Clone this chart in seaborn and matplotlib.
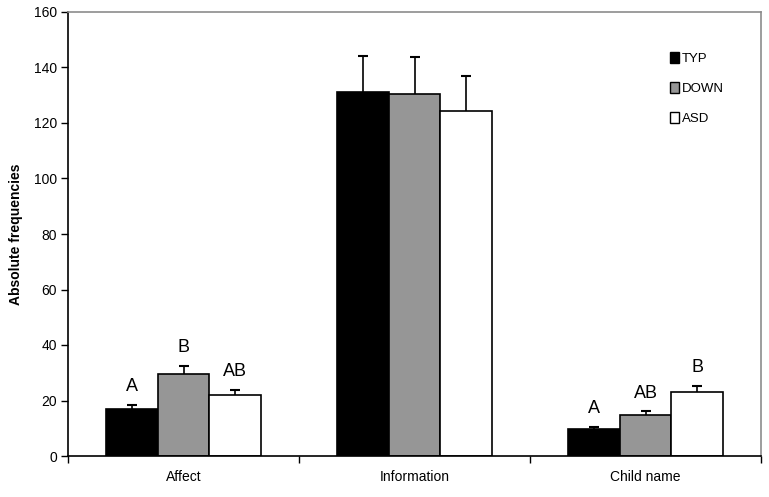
import numpy as np
import pandas as pd
import matplotlib
matplotlib.use("Agg")
import matplotlib.pyplot as plt
import seaborn as sns
from matplotlib.patches import Patch

categories = ["Affect", "Information", "Child name"]
groups = ["TYP", "DOWN", "ASD"]
typ_vals = [16.8, 131.0, 9.6]
down_vals = [29.4, 130.6, 14.6]
asd_vals = [21.9, 124.5, 23.0]
typ_err = [1.7, 13.0, 1.0]
down_err = [3.0, 13.2, 1.5]
asd_err = [2.0, 12.5, 2.4]
typ_letters = ["A", "", "A"]
down_letters = ["B", "", "AB"]
asd_letters = ["AB", "", "B"]
yticks = [0, 20, 40, 60, 80, 100, 120, 140, 160]
colors = {"TYP": "#000000", "DOWN": "#969696", "ASD": "#ffffff"}

rows = []
for g, vals, errs, lets in [("TYP", typ_vals, typ_err, typ_letters),
                            ("DOWN", down_vals, down_err, down_letters),
                            ("ASD", asd_vals, asd_err, asd_letters)]:
    for c, v, e, l in zip(categories, vals, errs, lets):
        rows.append({"category": c, "group": g, "value": v, "err": e, "letter": l})
df = pd.DataFrame(rows)

sns.set_style("white")
plt.rcParams["font.family"] = ["Liberation Sans", "DejaVu Sans"]
plt.rcParams["text.color"] = "black"
plt.rcParams["axes.labelcolor"] = "black"
plt.rcParams["xtick.color"] = "black"
plt.rcParams["ytick.color"] = "black"

fig = plt.figure(figsize=(7.69, 4.97), dpi=100)
ax = fig.add_axes([68 / 769, 41 / 497, 693 / 769, 444 / 497])

sns.barplot(data=df, x="category", y="value", hue="group", order=categories,
            hue_order=groups, palette=colors, width=0.67, errorbar=None,
            edgecolor="black", linewidth=1.2, ax=ax, legend=False, zorder=2)

for g, container in zip(groups, ax.containers):
    sub = df[df["group"] == g].set_index("category").loc[categories]
    xs = [p.get_x() + p.get_width() / 2 for p in container.patches]
    ys = sub["value"].values
    es = sub["err"].values
    ax.errorbar(xs, ys, yerr=es, fmt="none",
                ecolor="black", elinewidth=1.2, capsize=3.5, capthick=1.5, zorder=1)
    for x, y, e, l in zip(xs, ys, es, sub["letter"].values):
        if l:
            ax.text(x, y + e + 3.5, l, ha="center", va="bottom", fontsize=13, color="black")

ax.set_xlim(-0.5, 2.5)
ax.set_ylim(0, 160)
ax.set_yticks(yticks)
ax.set_yticklabels([str(t) for t in yticks], fontsize=10)
ax.set_xticks(range(len(categories)))
ax.set_xticklabels(categories, fontsize=10)
ax.set_xticks([-0.5, 0.5, 1.5, 2.5], minor=True)
ax.tick_params(axis="x", which="major", length=0, pad=10)
ax.tick_params(axis="x", which="minor", length=5, width=1, color="black", direction="out", bottom=True)
ax.tick_params(axis="y", length=5, width=1, color="black", direction="out", left=True, pad=3)
ax.set_xlabel("")
ax.set_ylabel("Absolute frequencies", fontsize=10, fontweight="bold", labelpad=8)

for s in ["left", "bottom"]:
    ax.spines[s].set_color("black")
    ax.spines[s].set_linewidth(1.2)
for s in ["top", "right"]:
    ax.spines[s].set_visible(True)
    ax.spines[s].set_color("#8c8c8c")
    ax.spines[s].set_linewidth(1.2)

handles = [Patch(facecolor=colors[g], edgecolor="black", linewidth=1.0) for g in groups]
leg = ax.legend(handles, groups, loc="upper left", bbox_to_anchor=(595 / 693, 1 - 33 / 444),
                frameon=False, fontsize=9.5, handlelength=0.75, handleheight=0.9,
                handletextpad=0.15, labelspacing=1.3, borderpad=0)
for t in leg.get_texts():
    t.set_color("black")

fig.savefig("out.png", dpi=100)
